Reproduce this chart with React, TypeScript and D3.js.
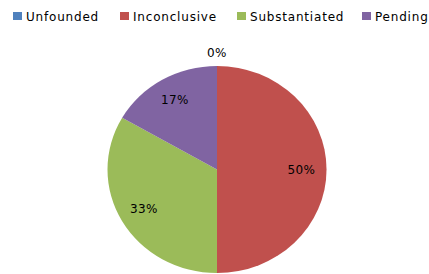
import React from "react";
import * as d3 from "d3";

const categories = ["Unfounded", "Inconclusive", "Substantiated", "Pending"];
const values = [0, 3, 2, 1];
const percentLabels = ["0%", "50%", "33%", "17%"];
const colors = ["#4F81BD", "#C0504D", "#9BBB59", "#8064A2"];

const W = 429;
const H = 274;

export default function App() {
  const cx = 217;
  const cy = 169.5;
  const rx = 109.5;
  const ry = 103.5;
  const sy = ry / rx;

  const pie = d3.pie<number>().sort(null).value((d) => d)(values);
  const arc = d3.arc<d3.PieArcDatum<number>>().innerRadius(0).outerRadius(rx);

  const legendX = [13, 120, 237, 362];

  return (
    <svg
      width={W}
      height={H}
      style={{ position: "fixed", left: 0, top: 0, background: "#fff" }}
      fontFamily="DejaVu Sans, sans-serif"
    >
      <rect width={W} height={H} fill="#fff" />
      <g transform={`translate(${cx},${cy}) scale(1,${sy})`}>
        {pie.map((p, i) =>
          p.endAngle - p.startAngle > 0 ? (
            <path key={i} d={arc(p) || ""} fill={colors[i]} />
          ) : null
        )}
      </g>
      {pie.map((p, i) => {
        const mid = (p.startAngle + p.endAngle) / 2;
        const L = p.value === 0 ? rx + 10 : rx * 0.77;
        const x = cx + Math.sin(mid) * L;
        const y = cy - Math.cos(mid) * L * sy + (p.value === 0 ? -4 : 0);
        return (
          <text
            key={i}
            x={x}
            y={y}
            textAnchor="middle"
            dominantBaseline="central"
            fontSize={12}
            fill="#000"
            letterSpacing={0.4}
          >
            {percentLabels[i]}
          </text>
        );
      })}
      {categories.map((c, i) => (
        <g key={c} transform={`translate(${legendX[i]},12)`}>
          <rect width={9} height={8} fill={colors[i]} />
          <text
            x={13}
            y={4.5}
            dominantBaseline="central"
            fontSize={12}
            fill="#000"
            letterSpacing={0.8}
          >
            {c}
          </text>
        </g>
      ))}
    </svg>
  );
}
